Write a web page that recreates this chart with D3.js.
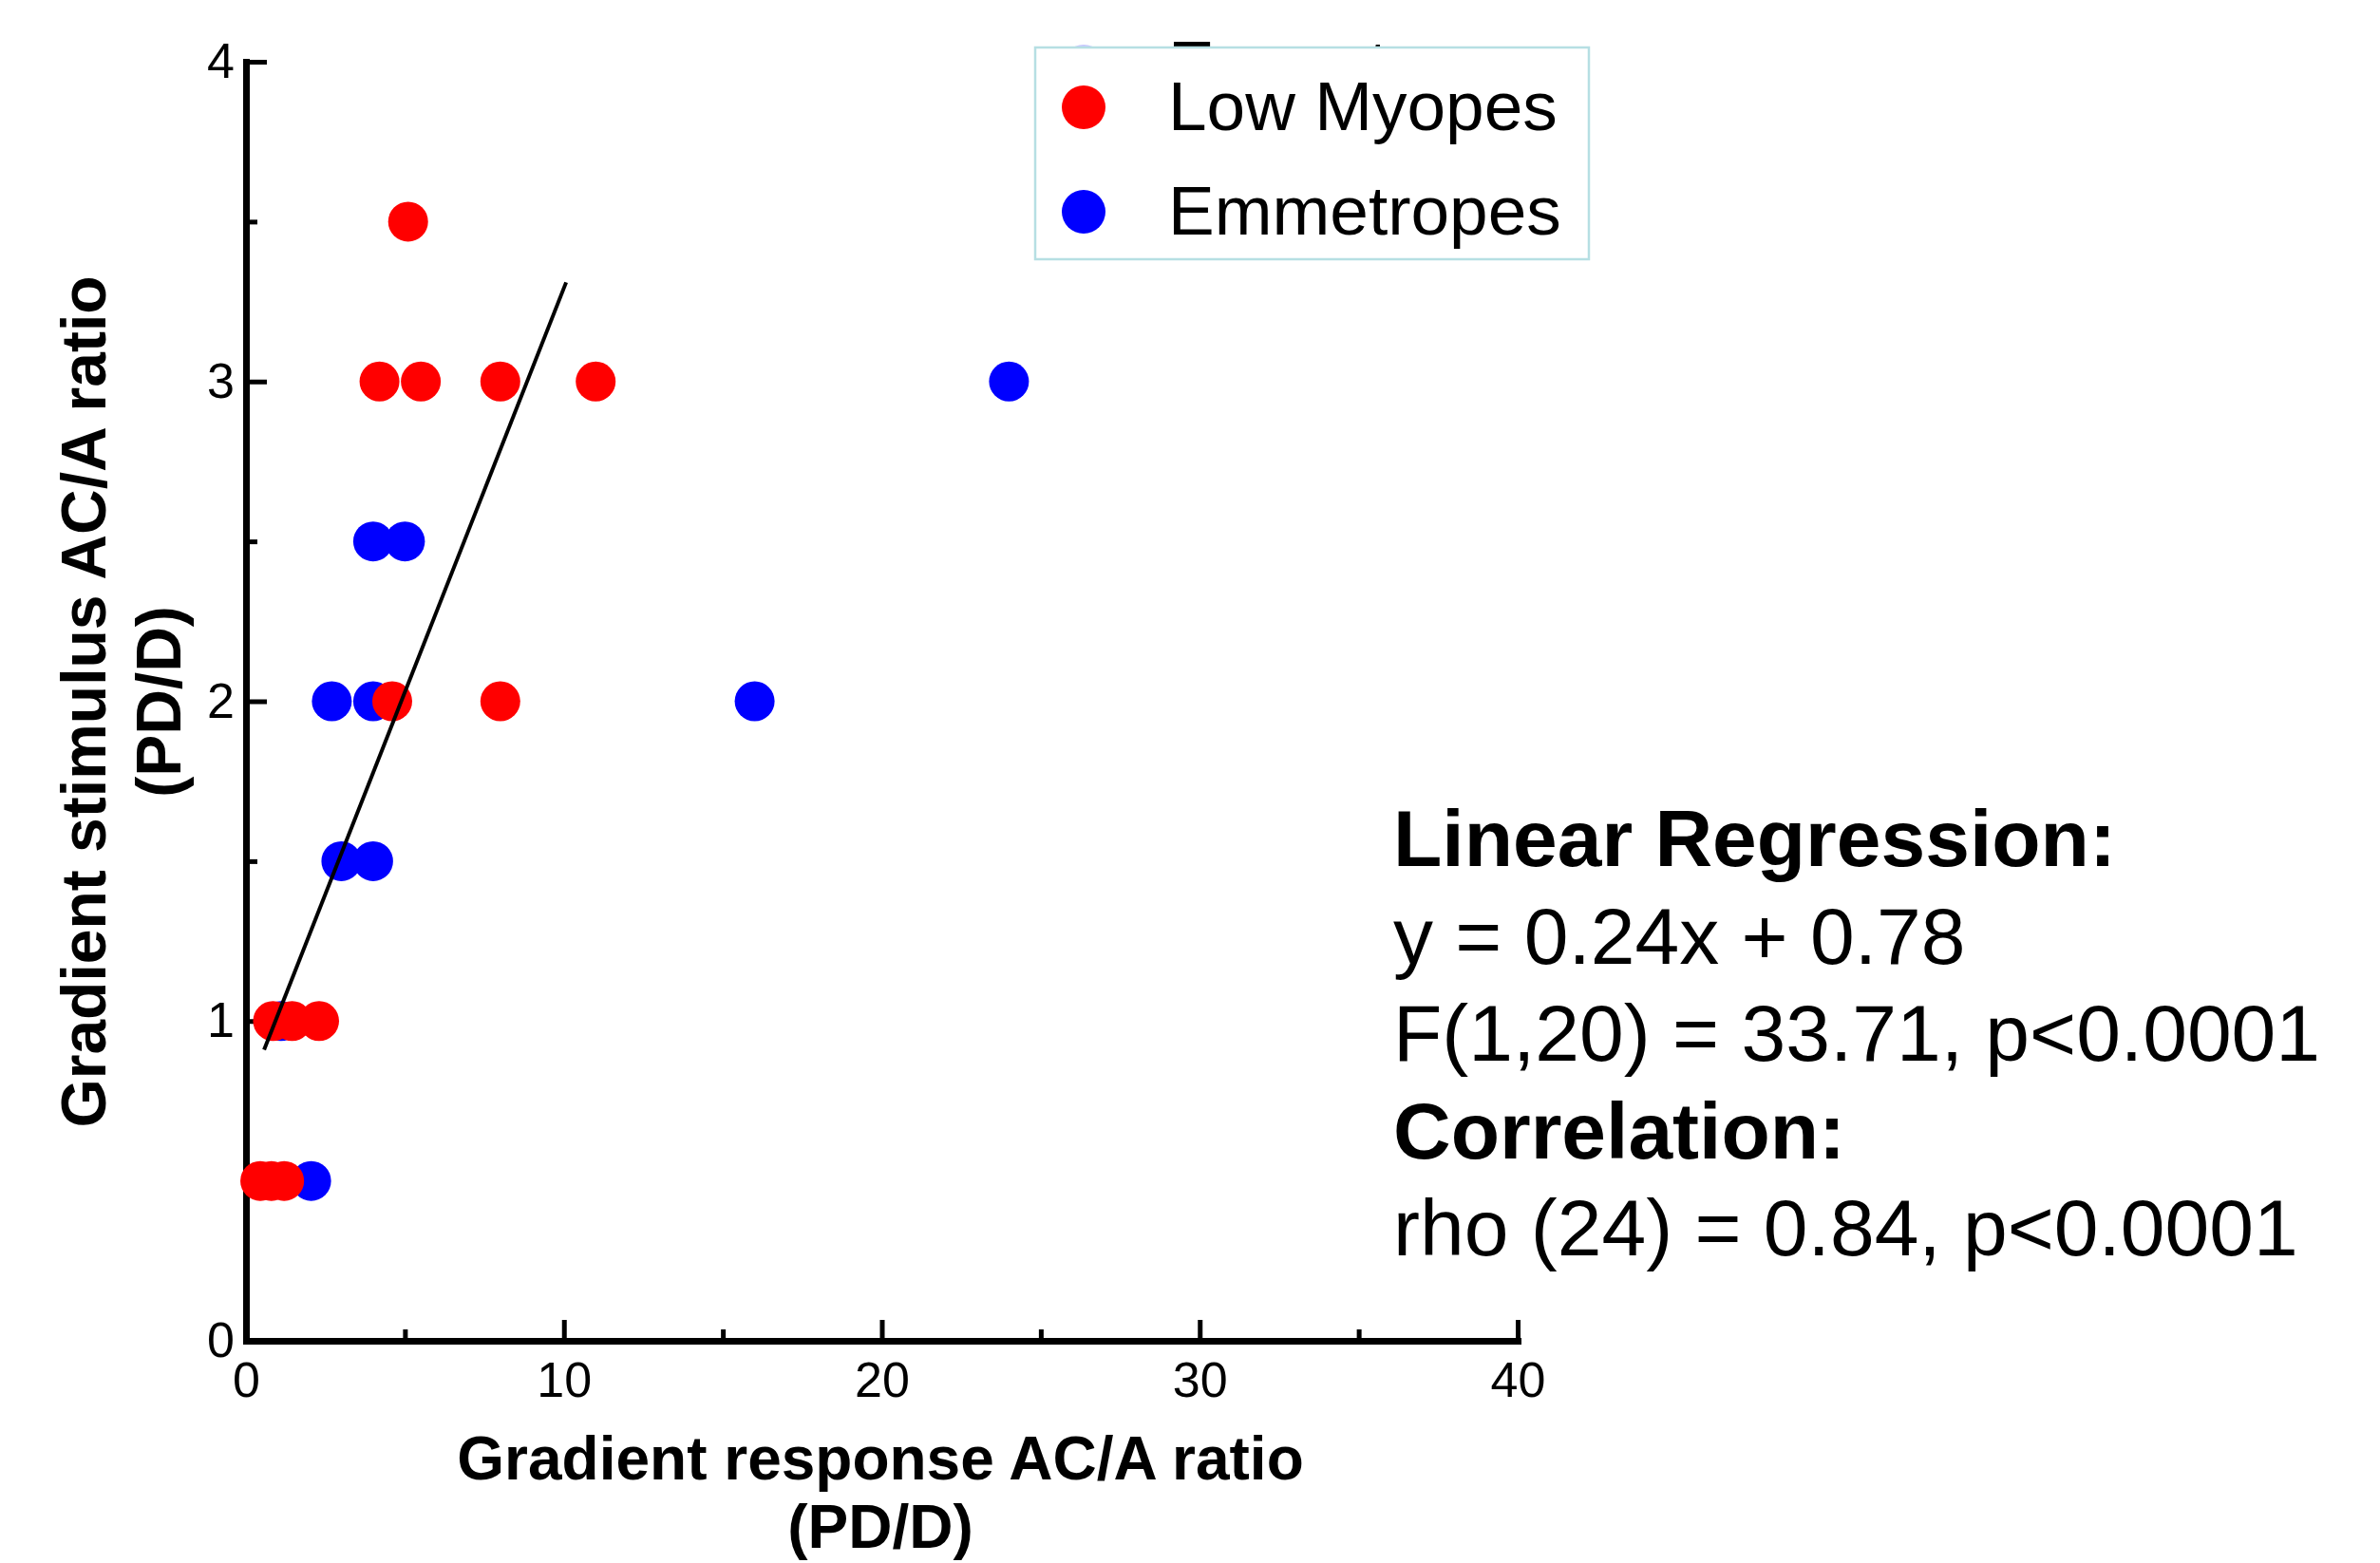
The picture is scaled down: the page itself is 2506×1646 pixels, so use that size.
<!DOCTYPE html>
<html>

<head>
    <meta charset="UTF-8">
    <title>AC/A ratio</title>
    <style>
        body { margin: 0; background: #fff; }
        svg { display: block; font-family: "Liberation Sans", Arial, sans-serif; }
        .axis text { font-family: "Liberation Sans", Arial, sans-serif; font-size: 52px; fill: #000; }
        .axis path, .axis line { stroke: #000; }
    </style>
</head>

<body>
    <svg width="2506" height="1646"></svg>
    <script src="https://cdn.jsdelivr.net/npm/d3@7"></script>
    <script>
        // data
        const groups = ["Low Myopes", "Emmetropes"];
        const colours = ["#ff0000", "#0000ff"];

        const myopeX = [5.1, 4.2, 5.5, 8, 11, 4.6, 8, 0.85, 1.45, 2.3, 0.45, 0.8, 1.2];
        const myopeY = [3.5, 3, 3, 3, 3, 2, 2, 1, 1, 1, 0.5, 0.5, 0.5];

        const emmX = [24, 4, 5, 2.7, 4, 16, 3, 4, 1.1, 2.05];
        const emmY = [3, 2.5, 2.5, 2, 2, 2, 1.5, 1.5, 1, 0.5];

        // fitted line as drawn (end points)
        const regX = [0.57, 10.07];
        const regY = [0.91, 3.31];

        const xTicks = [0, 10, 20, 30, 40];
        const xMinor = [5, 15, 25, 35];
        const yTicks = [0, 1, 2, 3, 4];
        const yMinor = [0.5, 1.5, 2.5, 3.5];

        const statsLines = ["Linear Regression:", "y = 0.24x + 0.78", "F(1,20) = 33.71, p<0.0001",
            "Correlation:", "rho (24) = 0.84, p<0.0001"];
        const statsBold = [true, false, false, true, false];

        const svg = d3.select("svg");

        const x = d3.scaleLinear().domain([0, 40]).range([259, 1598]),
            y = d3.scaleLinear().domain([0, 4]).range([1412, 65]);

        // minor ticks
        svg.append("g")
            .attr("class", "axis")
            .attr("transform", `translate(0,${y(0)})`)
            .call(d3.axisBottom(x).tickValues(xMinor).tickFormat("").tickSizeInner(-12).tickSizeOuter(0))
            .call(g => g.select(".domain").remove())
            .selectAll("line").attr("stroke-width", 5);

        svg.append("g")
            .attr("class", "axis")
            .attr("transform", `translate(${x(0)},0)`)
            .call(d3.axisLeft(y).tickValues(yMinor).tickFormat("").tickSizeInner(-12).tickSizeOuter(0))
            .call(g => g.select(".domain").remove())
            .selectAll("line").attr("stroke-width", 5);

        // major axes
        const xAxis = svg.append("g")
            .attr("class", "axis")
            .attr("transform", `translate(0,${y(0)})`)
            .call(d3.axisBottom(x).tickValues(xTicks).tickFormat(d3.format("d"))
                .tickSizeInner(-22).tickSizeOuter(0).tickPadding(22));
        xAxis.select(".domain").attr("stroke-width", 7).attr("stroke-linecap", "square");
        xAxis.selectAll(".tick line").attr("stroke-width", 5);

        const yAxis = svg.append("g")
            .attr("class", "axis")
            .attr("transform", `translate(${x(0)},0)`)
            .call(d3.axisLeft(y).tickValues(yTicks).tickFormat(d3.format("d"))
                .tickSizeInner(-22).tickSizeOuter(0).tickPadding(12));
        yAxis.select(".domain").attr("stroke-width", 7).attr("stroke-linecap", "square");
        yAxis.selectAll(".tick line").attr("stroke-width", 5);

        // axis titles
        svg.append("text")
            .attr("x", 927).attr("y", 1558)
            .attr("text-anchor", "middle")
            .style("font-size", "64px").style("font-weight", "bold")
            .text("Gradient response AC/A ratio");
        svg.append("text")
            .attr("x", 927).attr("y", 1630)
            .attr("text-anchor", "middle")
            .style("font-size", "64px").style("font-weight", "bold")
            .text("(PD/D)");

        svg.append("text")
            .attr("transform", "translate(111,739) rotate(-90)")
            .attr("text-anchor", "middle")
            .style("font-size", "66px").style("font-weight", "bold")
            .text("Gradient stimulus AC/A ratio");
        svg.append("text")
            .attr("transform", "translate(190,739) rotate(-90)")
            .attr("text-anchor", "middle")
            .style("font-size", "66px").style("font-weight", "bold")
            .text("(PD/D)");

        // points: emmetropes underneath, myopes on top
        const emm = emmX.map((v, i) => ({ x: v, y: emmY[i] }));
        const myo = myopeX.map((v, i) => ({ x: v, y: myopeY[i] }));

        svg.append("g").selectAll("circle")
            .data(emm)
            .enter().append("circle")
            .attr("cx", d => x(d.x))
            .attr("cy", d => y(d.y))
            .attr("r", 21)
            .attr("fill", colours[1]);

        svg.append("g").selectAll("circle")
            .data(myo)
            .enter().append("circle")
            .attr("cx", d => x(d.x))
            .attr("cy", d => y(d.y))
            .attr("r", 21)
            .attr("fill", colours[0]);

        // regression line
        svg.append("line")
            .attr("x1", x(regX[0])).attr("y1", y(regY[0]))
            .attr("x2", x(regX[1])).attr("y2", y(regY[1]))
            .attr("stroke", "#000")
            .attr("stroke-width", 4);

        // legend (with the stray label peeking above the box)
        const legend = svg.append("g");
        legend.append("circle")
            .attr("cx", 1141).attr("cy", 70).attr("r", 23)
            .attr("fill", "#c8c8ff");
        legend.append("text")
            .attr("x", 1230).attr("y", 94)
            .style("font-size", "73px")
            .text(groups[1]);
        legend.append("rect")
            .attr("x", 1090).attr("y", 50)
            .attr("width", 583).attr("height", 223)
            .attr("fill", "#fff")
            .attr("stroke", "#b6dfe3")
            .attr("stroke-width", 2.5);

        groups.forEach((name, i) => {
            const cy = 113 + i * 110;
            legend.append("circle")
                .attr("cx", 1141).attr("cy", cy).attr("r", 23)
                .attr("fill", colours[i]);
            legend.append("text")
                .attr("x", 1230).attr("y", cy + 24)
                .style("font-size", "73px")
                .text(name);
        });

        // statistics text
        svg.append("g").selectAll("text")
            .data(statsLines)
            .enter().append("text")
            .attr("x", 1467)
            .attr("y", (d, i) => 912 + i * 102.5)
            .style("font-size", "84px")
            .style("font-weight", (d, i) => statsBold[i] ? "bold" : "normal")
            .text(d => d);
    </script>
</body>

</html>
